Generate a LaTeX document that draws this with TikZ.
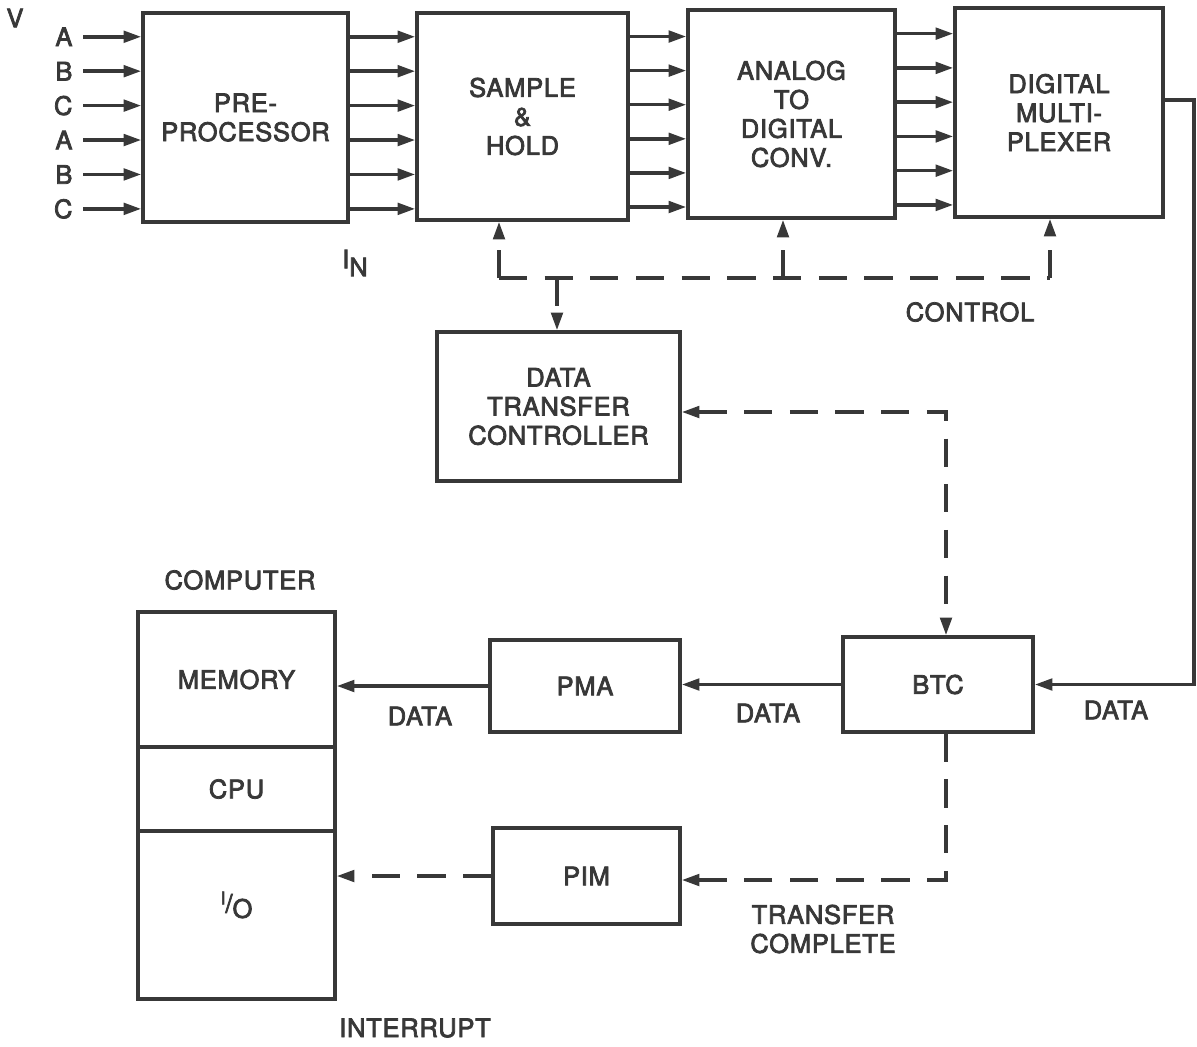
\documentclass[tikz,border=0pt]{standalone}
\usepackage{fontspec}
\setmainfont{TeX Gyre Heros}[LetterSpace=3, FakeBold=3]
\usetikzlibrary{arrows.meta, positioning, calc}
\definecolor{ink}{HTML}{383838}
\tikzset{
  blk/.style={rectangle, draw=ink, line width=2pt, fill=white, text=ink,
              align=center, inner sep=2pt},
  lbl/.style={text=ink, align=center, inner sep=2pt},
  bus/.style={-{Triangle[length=10pt, width=6.5pt]}, draw=ink, line width=2pt},
  ctl/.style={bus, dash pattern=on 16pt off 10pt},
}
\begin{document}
\begin{tikzpicture}[x=0.02cm, y=-0.02cm,
    every node/.style={font=\fontsize{14.5}{16.5}\selectfont}]
  \useasboundingbox (0,0) rectangle (1197,1046);

  % acquisition chain
  \node[blk, minimum width=4.10cm, minimum height=4.18cm] (pre) at (245.5,117.5) {PRE-\\PROCESSOR};
  \node[blk, minimum width=4.22cm, minimum height=4.14cm] (sh) at (522.5,116.5) {SAMPLE\\\&\\HOLD};
  \node[blk, minimum width=4.14cm, minimum height=4.16cm] (adc) at (791.5,114) {ANALOG\\TO\\DIGITAL\\CONV.};
  \node[blk, minimum width=4.16cm, minimum height=4.18cm] (mux) at (1059,112.5) {DIGITAL\\MULTI-\\PLEXER};

  \node[blk, minimum width=4.86cm, minimum height=2.98cm] (dtc) at (558.5,406.5) {DATA\\TRANSFER\\CONTROLLER};

  % computer side
  \node[blk, minimum width=3.80cm, minimum height=1.90cm] (btc) at (938,684.5) {BTC};
  \node[blk, minimum width=3.80cm, minimum height=1.84cm] (pma) at (585,686) {PMA};
  \node[blk, minimum width=3.74cm, minimum height=1.92cm] (pim) at (586.5,876) {PIM};
  \node[blk, minimum width=3.94cm, minimum height=2.70cm] (mem) at (236.5,679.5) {MEMORY};
  \node[blk, minimum width=3.94cm, minimum height=1.68cm, below=-2pt of mem] (cpu) {CPU};
  \node[blk, minimum width=3.94cm, minimum height=3.36cm, below=-2pt of cpu,
        label={[lbl, yshift=0.2cm]center:{\raisebox{0.6ex}{\fontsize{10}{10}\selectfont I}/\raisebox{-0.4ex}{O}}}] (io) {};

  % labels
  \node[lbl] (vin) at (15,18) {V};
  \node[lbl] (inlbl) at (355,263) {\raisebox{4.5pt}{I}N};
  \node[lbl] (ctltxt) at (970,312) {CONTROL};
  \node[lbl] (comptxt) at (240,580) {COMPUTER};
  \node[lbl] (d1) at (420,716) {DATA};
  \node[lbl] (d2) at (768,713) {DATA};
  \node[lbl] (d3) at (1116,710) {DATA};
  \node[lbl] (tctxt) at (823,929) {TRANSFER\\COMPLETE};
  \node[lbl] (inttxt) at (415,1028) {INTERRUPT};

  % phase inputs
  \foreach \t [count=\i] in {A,B,C,A,B,C} {
    \path ($(pre.north west)!{0.12+0.162*(\i-1)}!(pre.south west)$) coordinate (q);
    \node[lbl, anchor=east] (in\i) at ([xshift=-1.3cm]q) {\t};
    \draw[bus, shorten <=4pt] (in\i.east) -- (q);
  }

  % parallel channels
  \foreach \a/\b in {pre/sh, sh/adc, adc/mux}
    \foreach \f in {0.12,0.282,0.444,0.606,0.768,0.93} {
      \path ($(\a.north east)!\f!(\a.south east)$) coordinate (p);
      \draw[bus] (p) -- (p -| \b.west);
    }

  % control bus
  \coordinate (c1) at (499,278);
  \coordinate (c0) at (557,278);
  \coordinate (c2) at (783,278);
  \coordinate (c3) at (1050,278);
  \draw[ctl, -] (c1) -- (c3);
  \draw[ctl] (c1) -- (c1 |- sh.south);
  \draw[ctl] (c2) -- (c2 |- adc.south);
  \draw[ctl] (c3) -- (c3 |- mux.south);
  \draw[ctl] (c0) -- (c0 |- dtc.north);

  % data path
  \coordinate (tap) at (1194,100);
  \draw[bus] (mux.east |- tap) -- (tap) |- (btc.east);
  \draw[bus] (btc.west) -- (btc.west -| pma.east);
  \draw[bus] (pma.west) -- (pma.west -| mem.east);

  % handshake
  \coordinate (dc) at (946,412);
  \draw[ctl, {Triangle[length=10pt, width=6.5pt]}-{Triangle[length=10pt, width=6.5pt]}]
    (dtc.east |- dc) -- (dc) -- (dc |- btc.north);
  \coordinate (tc) at (946,880);
  \draw[ctl] (tc |- btc.south) -- (tc) -- (tc -| pim.east);
  \draw[ctl] (pim.west) -- (pim.west -| io.east);
\end{tikzpicture}
\end{document}
